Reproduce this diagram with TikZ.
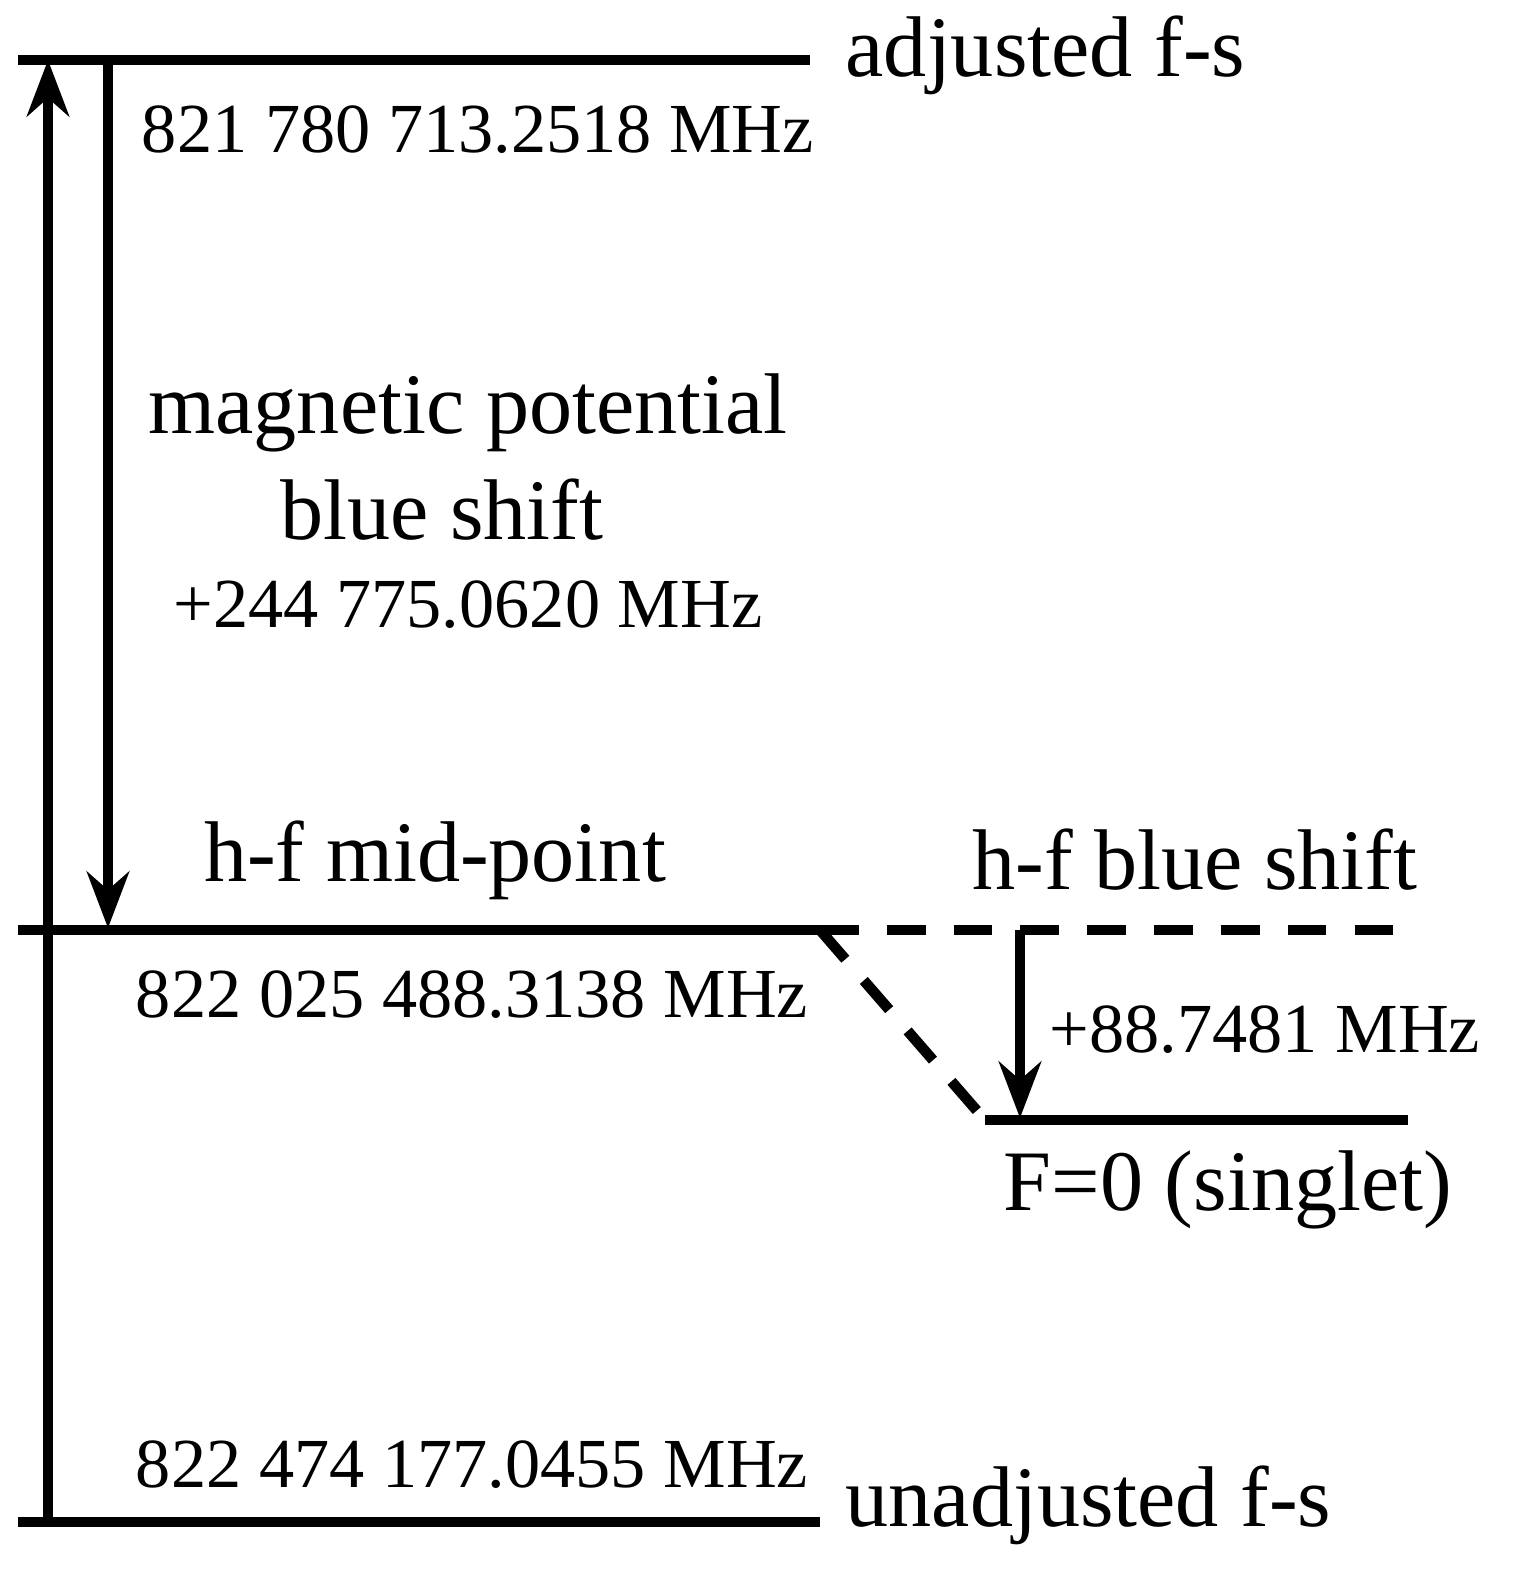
\documentclass[tikz,border=0pt]{standalone}
\usepackage{fontspec}
\setmainfont{Liberation Serif}
\usetikzlibrary{arrows.meta}
\begin{document}
\begin{tikzpicture}[x=0.01cm,y=-0.01cm,
 lvl/.style={line width=3pt},
 arr/.style={line width=3pt,-{Stealth[length=16pt,width=12pt]}},
 dsh/.style={line width=3pt,dash pattern=on 11pt off 8pt},
 big/.style={font=\fontsize{24.5}{28}\selectfont,inner sep=0pt},
 num/.style={font=\fontsize{20}{24}\selectfont,inner sep=0pt}]
\useasboundingbox (0,0) rectangle (1522,1596);
\coordinate (t0) at (18,60); \coordinate (t1) at (810,60);
\coordinate (m0) at (18,930); \coordinate (m1) at (820,930); \coordinate (m2) at (1400,930);
\coordinate (s0) at (985,1120); \coordinate (s1) at (1408,1120);
\coordinate (b0) at (18,1522); \coordinate (b1) at (820,1522);
\coordinate (ua) at (48,1522); \coordinate (ub) at (48,60);
\coordinate (da) at (108,60); \coordinate (db) at (108,928);
\coordinate (ha) at (1020,930); \coordinate (hb) at (1020,1118);
\draw[lvl] (t0)--(t1);
\draw[lvl] (m0)--(m1);
\draw[dsh] (m1)--(m2);
\draw[dsh] (m1)--(s0);
\draw[lvl] (s0)--(s1);
\draw[lvl] (b0)--(b1);
\draw[arr] (ua)--(ub);
\draw[arr] (da)--(db);
\draw[arr] (ha)--(hb);
\node[big,anchor=west] (adj) at (845,55) {adjusted f-s};
\node[num] (n1) at (478,130) {821 780 713.2518 MHz};
\node[big] (mp) at (468,413) {magnetic potential};
\node[big] (bs) at (442,510) {blue shift};
\node[num] (n2) at (468,605) {+244 775.0620 MHz};
\node[big] (hm) at (435,860) {h-f mid-point};
\node[big] (hb2) at (1195,860) {h-f blue shift};
\node[num] (n3) at (472,995) {822 025 488.3138 MHz};
\node[num] (n4) at (1265,1030) {+88.7481 MHz};
\node[big] (F0) at (1228,1190) {F=0 (singlet)};
\node[num] (n5) at (472,1465) {822 474 177.0455 MHz};
\node[big,anchor=west] (un) at (845,1505) {unadjusted f-s};
\end{tikzpicture}
\end{document}
